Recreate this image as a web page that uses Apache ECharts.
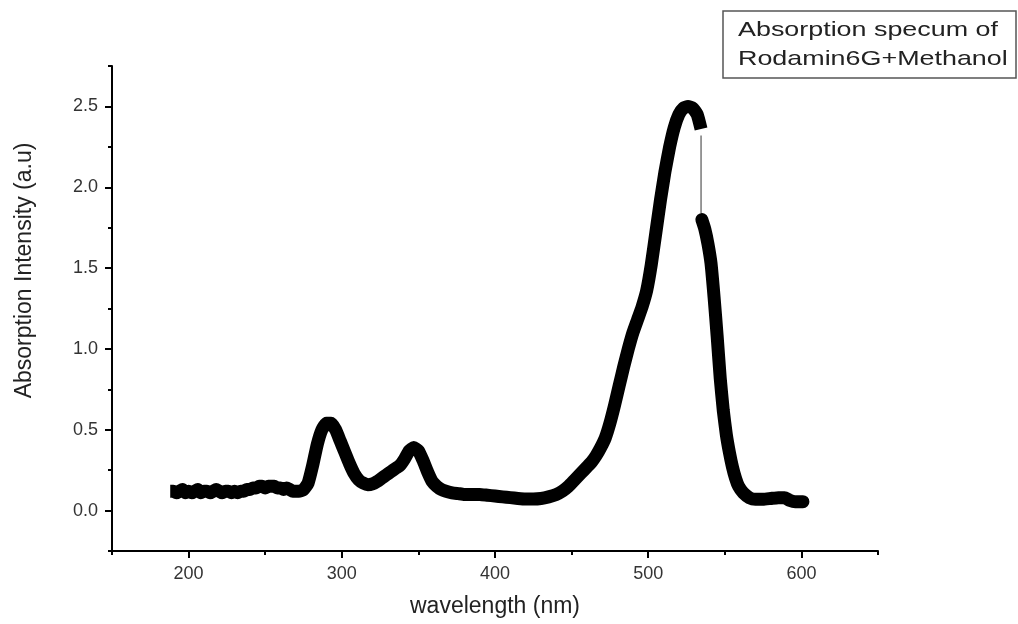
<!DOCTYPE html>
<html>
<head>
<meta charset="utf-8">
<script src="https://cdn.jsdelivr.net/npm/echarts@6/dist/echarts.min.js"></script>
<style>
html,body{margin:0;padding:0;background:#fff;}
#chart{width:1018px;height:624px;}
</style>
</head>
<body>
<div id="chart"></div>
<script>
// ---- data ----
const wavelengthA = [188,190,192,194,196,198,200,202,204,206,208,210,212,214,216,218,220,222,224,226,228,230,232,234,236,238,240,242,244,246,248,250,252,254,256,258,260,262,264,266,268,270,272,275,278,281,284,287,290,293,296,299,302,305,308,311,314,317,320,323,326,329,332,335,338,341,344,347,350,353,356,359,362,365,368,372,376,380,385,390,395,400,405,410,415,420,425,430,435,440,444,448,452,456,460,463,466,469,472,475,478,481,484,487,490,493,496,499,502,505,508,511,514,517,520,523,526,529,532,534.5];
const absorbA = [0.12,0.12,0.11,0.12,0.13,0.11,0.12,0.11,0.12,0.13,0.11,0.12,0.12,0.11,0.12,0.13,0.12,0.11,0.12,0.12,0.11,0.12,0.11,0.12,0.12,0.13,0.13,0.14,0.14,0.15,0.15,0.14,0.15,0.15,0.15,0.14,0.14,0.13,0.14,0.13,0.12,0.12,0.12,0.13,0.17,0.28,0.41,0.50,0.54,0.54,0.50,0.43,0.36,0.29,0.23,0.19,0.17,0.16,0.165,0.18,0.20,0.22,0.24,0.26,0.28,0.32,0.37,0.39,0.37,0.31,0.24,0.18,0.15,0.13,0.12,0.11,0.105,0.10,0.10,0.10,0.095,0.09,0.085,0.08,0.075,0.072,0.072,0.075,0.085,0.10,0.12,0.15,0.19,0.23,0.27,0.30,0.34,0.39,0.45,0.54,0.65,0.77,0.89,1.00,1.10,1.18,1.26,1.36,1.52,1.72,1.92,2.10,2.25,2.37,2.45,2.49,2.50,2.49,2.45,2.36];
const wavelengthB = [535,537,539,541,543,545,547,549,551,553,555,557,559,562,566,570,575,580,585,589,592,596,601];
const absorbB = [1.80,1.74,1.65,1.53,1.32,1.08,0.82,0.62,0.47,0.36,0.27,0.20,0.15,0.11,0.08,0.07,0.07,0.075,0.08,0.08,0.065,0.055,0.055];
const jumpWavelength = [534.5,534.5];
const jumpAbsorb = [2.32,1.84];

const xMajorTicks = [200,300,400,500,600];
const xMinorTicks = [150,250,350,450,550,650];
const yMajorTicks = [0,0.5,1.0,1.5,2.0,2.5];
const yMinorTicks = [-0.25,0.25,0.75,1.25,1.75,2.25,2.75];

const legendLines = ['Absorption specum of','Rodamin6G+Methanol'];
const xTitle = 'wavelength (nm)';
const yTitle = 'Absorption Intensity (a.u)';

const zip = (a,b) => a.map((v,i)=>[v,b[i]]);
const FONT = '"Liberation Sans", Arial, sans-serif';

const chart = echarts.init(document.getElementById('chart'), null, {renderer:'canvas'});
const axisCommonX = {type:'value', min:150, max:650, interval:50, splitLine:{show:false}};
const axisCommonY = {type:'value', min:-0.25, max:2.75, interval:0.25, splitLine:{show:false}};

chart.setOption({
  animation:false,
  backgroundColor:'#fff',
  grid:{left:112, right:140, top:66, bottom:73, containLabel:false},
  xAxis:[
    Object.assign({}, axisCommonX, {
      position:'bottom',
      axisLine:{show:true, onZero:false, lineStyle:{color:'#000', width:2}},
      axisTick:{show:true, inside:false, length:7, customValues:xMajorTicks, lineStyle:{color:'#000', width:2}},
      axisLabel:{show:true, customValues:xMajorTicks, margin:14, fontSize:18, fontFamily:FONT, color:'#333'},
      name:xTitle, nameLocation:'middle', nameGap:44,
      nameTextStyle:{fontSize:23, fontFamily:FONT, color:'#222'}
    }),
    Object.assign({}, axisCommonX, {
      position:'bottom', offset:0,
      axisLine:{show:false, onZero:false},
      axisTick:{show:true, inside:false, length:4, customValues:xMinorTicks, lineStyle:{color:'#000', width:2}},
      axisLabel:{show:false}
    })
  ],
  yAxis:[
    Object.assign({}, axisCommonY, {
      position:'left',
      axisLine:{show:true, onZero:false, lineStyle:{color:'#000', width:2}},
      axisTick:{show:true, inside:false, length:7, customValues:yMajorTicks, lineStyle:{color:'#000', width:2}},
      axisLabel:{show:true, customValues:yMajorTicks, formatter:v=>v.toFixed(1), margin:14, fontSize:18, fontFamily:FONT, color:'#333'},
      name:yTitle, nameLocation:'middle', nameGap:76, nameRotate:90,
      nameTextStyle:{fontSize:23, fontFamily:FONT, color:'#222', padding:[0,0,0,76]}
    }),
    Object.assign({}, axisCommonY, {
      position:'left', offset:0,
      axisLine:{show:false, onZero:false},
      axisTick:{show:true, inside:false, length:4, customValues:yMinorTicks, lineStyle:{color:'#000', width:2}},
      axisLabel:{show:false}
    })
  ],
  series:[
    {type:'line', name:'Rodamin6G+Methanol', xAxisIndex:0, yAxisIndex:0, data:zip(wavelengthA, absorbA),
     symbol:'none', smooth:0.15, lineStyle:{color:'#000', width:13, join:'round', cap:'butt'}},
    {type:'line', name:'Rodamin6G+Methanol (2)', xAxisIndex:0, yAxisIndex:0, data:zip(wavelengthB, absorbB),
     symbol:'none', smooth:0.15, lineStyle:{color:'#000', width:13, join:'round', cap:'round'}},
    {type:'line', name:'jump', xAxisIndex:0, yAxisIndex:0, data:zip(jumpWavelength, jumpAbsorb),
     symbol:'none', lineStyle:{color:'#777', width:1.5}}
  ],
  graphic:[
    {type:'rect', shape:{x:723, y:11, width:293, height:67}, style:{fill:'#fff', stroke:'#555', lineWidth:1.5}},
    {type:'text', x:738, y:30, scaleX:1.28, style:{text:legendLines[0], fontSize:21, fontFamily:FONT, fill:'#222', verticalAlign:'middle'}},
    {type:'text', x:738, y:59, scaleX:1.28, style:{text:legendLines[1], fontSize:21, fontFamily:FONT, fill:'#222', verticalAlign:'middle'}}
  ]
});
</script>
</body>
</html>
